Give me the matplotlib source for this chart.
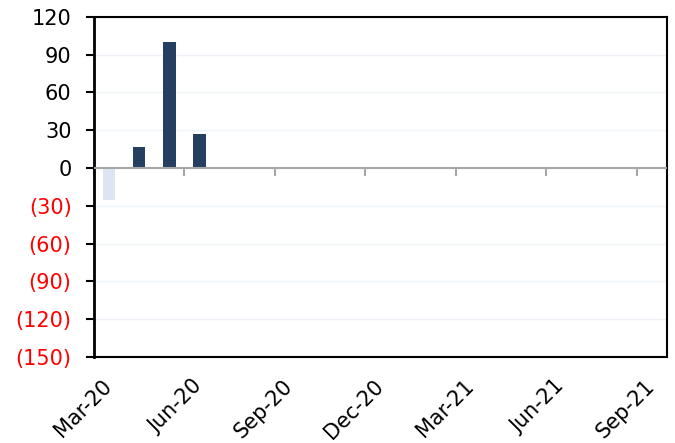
import matplotlib
matplotlib.use("Agg")
import matplotlib.pyplot as plt
from matplotlib.transforms import ScaledTranslation
import numpy as np

# monthly categories shown on the axis
months = ["Mar-20", "Apr-20", "May-20", "Jun-20", "Jul-20", "Aug-20", "Sep-20",
          "Oct-20", "Nov-20", "Dec-20", "Jan-21", "Feb-21", "Mar-21", "Apr-21",
          "May-21", "Jun-21", "Jul-21", "Aug-21", "Sep-21"]
# only the first four months have values
values = [-25, 17, 100, 27]
y_ticks = [120, 90, 60, 30, 0, -30, -60, -90, -120, -150]
quarter_labels = ["Mar-20", "Jun-20", "Sep-20", "Dec-20", "Mar-21", "Jun-21", "Sep-21"]

DARK = "#243F60"
LIGHT = "#DCE6F2"
ZERO_GREY = "#A6A6A6"

plt.rcParams["font.family"] = ["DejaVu Sans"]

fig = plt.figure(figsize=(6.75, 4.43), dpi=100)
ax = fig.add_axes([0.139, 0.194, 0.849, 0.768])

x = np.arange(len(values)) + 0.5
bar_colors = [LIGHT if v < 0 else DARK for v in values]
ax.bar(x, values, width=0.42, color=bar_colors, zorder=3)

ymin, ymax = min(y_ticks), max(y_ticks)
ax.set_xlim(0, len(months))
ax.set_ylim(ymin, ymax)

# y axis: negatives in red with parentheses, positives leave room for ")"
ax.set_yticks(y_ticks)
ylabels = [f"{v}" if v >= 0 else f"({abs(v)})" for v in y_ticks]
ax.set_yticklabels(ylabels, fontsize=15)
paren_shift = ScaledTranslation(-0.08, 0, fig.dpi_scale_trans)
for lab, v in zip(ax.get_yticklabels(), y_ticks):
    if v < 0:
        lab.set_color("red")
    else:
        lab.set_transform(lab.get_transform() + paren_shift)
ax.tick_params(axis="y", direction="out", length=6, width=1.5, pad=10, color="black")
ax.yaxis.grid(True, color="#EFF3F8", linewidth=1, zorder=0)

# x axis labels at the quarters, placed under the frame
tick_pos = [months.index(m) for m in quarter_labels]
ax.set_xticks(tick_pos)
ax.set_xticklabels(quarter_labels, fontsize=15)
ax.tick_params(axis="x", length=0, pad=0)
offset = ScaledTranslation(0.22, -0.19, fig.dpi_scale_trans)
for lab in ax.get_xticklabels():
    lab.set_rotation(45)
    lab.set_ha("right")
    lab.set_va("top")
    lab.set_transform(lab.get_transform() + offset)

# zero line with its own downward tick marks
ax.axhline(0, color=ZERO_GREY, linewidth=1.5, zorder=4)
zero_frac = (0 - ymin) / (ymax - ymin)
zax = ax.secondary_xaxis(zero_frac)
zax.set_xticks(tick_pos)
zax.set_xticklabels([])
zax.spines["top"].set_visible(False)
zax.spines["bottom"].set_visible(False)
zax.tick_params(axis="x", direction="in", length=6, width=1.5, color=ZERO_GREY)

for side in ["top", "right", "bottom"]:
    ax.spines[side].set_linewidth(1.5)
    ax.spines[side].set_color("black")
ax.spines["left"].set_linewidth(2)

fig.savefig("out.png", dpi=100)
